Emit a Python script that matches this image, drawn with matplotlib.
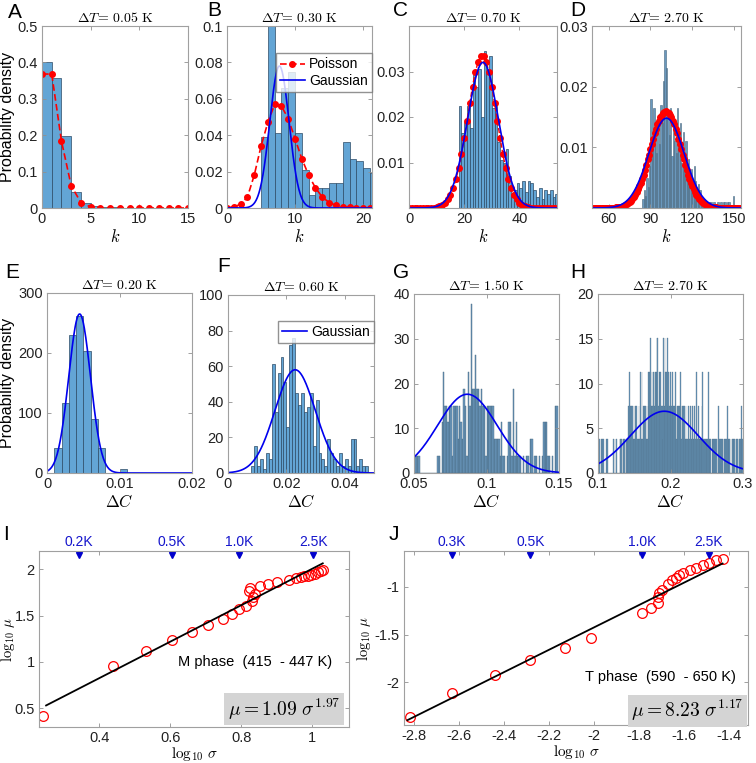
import numpy as np
import matplotlib
matplotlib.use('Agg')
import matplotlib.pyplot as plt
from matplotlib.ticker import FuncFormatter

plt.rcParams['font.family'] = ['Liberation Sans', 'DejaVu Sans']
plt.rcParams['mathtext.fontset'] = 'cm'
plt.rcParams['axes.unicode_minus'] = False

# ---------------------------------------------------------------- data
# A  (dT = 0.05 K)
A_edges = [0, 1, 2, 3, 4, 5, 6, 7, 8]
A_hist = [0.400, 0.357, 0.197, 0.044, 0.013, 0.006, 0.003, 0.002]
A_k = list(range(16))
A_pois = [0.368, 0.368, 0.184, 0.061, 0.015, 0.003, 0.0005, 0, 0, 0, 0, 0, 0, 0, 0, 0]

# B  (dT = 0.30 K)
B_start = 5
B_hist = [0.039, 0.105, 0.041, 0.066, 0.075, 0.041, 0.021, 0.007, 0.011, 0.011,
          0.014, 0.014, 0.036, 0.027, 0.026, 0.022, 0.019]
B_k = list(range(22))
B_pois = [0.0, 0.0007, 0.002, 0.006, 0.018, 0.034, 0.047, 0.057, 0.056, 0.049,
          0.038, 0.027, 0.018, 0.011, 0.006, 0.003, 0.0015, 0.0007, 0.0003, 0.0001, 0, 0]
B_gauss = (0.078, 7.7, 1.42)   # peak, centre, width

# C  (dT = 0.70 K)
C_start = 18
C_hist = [0.0225, 0.0165, 0.0190, 0.0225, 0.0175, 0.0295, 0.0265, 0.0305, 0.0200, 0.0345,
          0.0300, 0.0335, 0.0220, 0.0225, 0.0145, 0.0105, 0.0100, 0.0130, 0.0070, 0.0030,
          0.0040, 0.0055, 0.0045, 0.0060, 0.0035, 0.0060, 0.0055, 0.0040, 0.0025, 0.0045,
          0.0020, 0.0040, 0.0030, 0.0040, 0.0025, 0.0030]
C_k = list(range(54))
C_pois = ([0.0] * 9 +
          [0.0001, 0.0002, 0.0004, 0.0007, 0.0012, 0.0019, 0.0029, 0.0044, 0.0063, 0.0088,
           0.0118, 0.0154, 0.0192, 0.0230, 0.0267, 0.0298, 0.0321, 0.0333, 0.0333, 0.0321,
           0.0298, 0.0267, 0.0230, 0.0192, 0.0154, 0.0118, 0.0088, 0.0063, 0.0044, 0.0029,
           0.0019, 0.0012, 0.0007, 0.0004, 0.0002, 0.0001] +
          [0.0] * 9)
C_gauss = (0.032, 26.8, 5.6)

# D  (dT = 2.70 K)
D_start = 84
D_hist = [0.0015, 0.0030, 0.0020, 0.0050, 0.0035, 0.0070, 0.0180, 0.0095, 0.0165, 0.0120,
          0.0090, 0.0135, 0.0105, 0.0170, 0.0140, 0.0210, 0.0260, 0.0230, 0.0150, 0.0120,
          0.0165, 0.0085, 0.0145, 0.0110, 0.0090, 0.0165, 0.0120, 0.0140, 0.0075, 0.0125,
          0.0090, 0.0110, 0.0065, 0.0080, 0.0055, 0.0065, 0.0035, 0.0070, 0.0045, 0.0030,
          0.0040, 0.0030, 0.0020, 0.0010, 0.0010, 0.0, 0.0010, 0.0, 0.0010, 0.0010,
          0.0, 0.0010, 0.0, 0.0, 0.0010, 0.0, 0.0010, 0.0, 0.0010, 0.0010,
          0.0, 0.0010, 0.0010, 0.0, 0.0, 0.0020]
D_k = list(range(49, 155))
D_pois = ([0.0] * 16 +
          [0.0001, 0.0001, 0.0001, 0.0002, 0.0002, 0.0003, 0.0004, 0.0005, 0.0006, 0.0008,
           0.0010, 0.0012, 0.0015, 0.0018, 0.0022, 0.0026, 0.0031, 0.0036, 0.0042, 0.0048,
           0.0055, 0.0063, 0.0071, 0.0080, 0.0088, 0.0097, 0.0106, 0.0114, 0.0123, 0.0131,
           0.0138, 0.0144, 0.0150, 0.0154, 0.0157, 0.0159, 0.0160, 0.0159, 0.0157, 0.0154,
           0.0150, 0.0144, 0.0138, 0.0131, 0.0123, 0.0114, 0.0106, 0.0097, 0.0088, 0.0080,
           0.0071, 0.0063, 0.0055, 0.0048, 0.0042, 0.0036, 0.0031, 0.0026, 0.0022, 0.0018,
           0.0015, 0.0012, 0.0010, 0.0008, 0.0006, 0.0005, 0.0004, 0.0003, 0.0002, 0.0002,
           0.0001, 0.0001, 0.0001] +
          [0.0] * 17)
D_gauss = (0.0148, 101.5, 12.7)

# E  (dT = 0.20 K)
E_start, E_width = 0.001, 0.001
E_hist = [42, 117, 230, 261, 204, 90, 42, 0, 0, 6]
E_gauss = (265, 0.0045, 0.0015)

# F  (dT = 0.60 K)
F_start, F_width = 0.008, 0.001
F_hist = [4, 15, 4, 8, 2, 11, 8, 61, 34, 56, 65, 51, 26, 72, 76, 45, 38, 45, 34, 37,
          45, 15, 41, 11, 8, 4, 19, 11, 8, 4, 11, 4, 8, 4, 19, 19, 4, 8, 4, 4]
F_gauss = (58, 0.023, 0.0069)

# G  (dT = 1.50 K): counts per bin, one count = 3.77
G_start, G_width, G_unit = 0.050, 0.001, 3.77
G_counts = [0, 1, 1, 1, 0, 0, 0, 0, 0, 0, 0, 0, 0, 0, 0, 0, 1, 1, 0, 3,
            6, 4, 4, 3, 4, 4, 1, 4, 4, 4, 2, 4, 3, 2, 5, 4, 1, 6, 4, 10,
            5, 5, 7, 5, 5, 4, 5, 4, 4, 1, 4, 4, 4, 4, 4, 2, 2, 2, 2, 1,
            3, 1, 1, 0, 1, 3, 3, 1, 5, 1, 3, 1, 1, 1, 0, 1, 0, 1, 1, 0,
            2, 2, 0, 1, 1, 0, 1, 0, 1, 3, 3, 3, 1, 1, 0, 1, 0, 4, 4, 0]
G_gauss = (17.6, 0.0868, 0.0205)

# H  (dT = 2.70 K): counts per bin, one count = 3.77
H_start, H_width, H_unit = 0.100, 0.001, 3.77
H_counts = [1, 0, 1, 0, 1, 0, 1, 1, 0, 0, 0, 1, 0, 1, 0, 0, 0, 0, 0, 0,
            0, 1, 0, 1, 0, 1, 0, 0, 0, 0, 1, 1, 1, 0, 1, 1, 1, 0, 1, 1,
            1, 1, 2, 3, 2, 1, 2, 2, 1, 2, 1, 2, 1, 2, 1, 1, 2, 1, 3, 1,
            3, 1, 2, 1, 2, 2, 1, 2, 1, 3, 2, 3, 4, 2, 3, 2, 3, 2, 3, 3,
            3, 4, 4, 2, 3, 3, 3, 2, 2, 1, 4, 2, 4, 3, 3, 4, 2, 3, 2, 3,
            2, 2, 3, 2, 2, 2, 3, 2, 1, 2, 1, 2, 2, 3, 2, 1, 2, 2, 1, 2,
            1, 2, 1, 1, 2, 1, 1, 2, 1, 1, 2, 1, 1, 2, 1, 3, 1, 1, 2, 1,
            1, 1, 1, 2, 3, 1, 1, 0, 1, 1, 1, 1, 3, 1, 1, 1, 0, 1, 1, 1,
            1, 0, 1, 1, 0, 1, 2, 1, 1, 0, 1, 1, 1, 0, 1, 1, 0, 1, 2, 1,
            1, 1, 0, 1, 0, 1, 1, 1, 1, 0, 1, 1, 1, 0, 1, 1, 1, 2, 1, 1]
H_gauss = (6.9, 0.1915, 0.0467)

# I  (M phase)
I_logsig = [0.242, 0.440, 0.532, 0.605, 0.662, 0.707, 0.748, 0.773, 0.795, 0.813,
            0.823, 0.825, 0.830, 0.833, 0.838, 0.852, 0.876, 0.900, 0.935, 0.955,
            0.968, 0.977, 0.987, 0.997, 1.008, 1.018, 1.025, 1.030]
I_logmu = [0.415, 0.960, 1.120, 1.235, 1.325, 1.405, 1.467, 1.520, 1.575, 1.610,
           1.765, 1.795, 1.660, 1.700, 1.735, 1.820, 1.845, 1.865, 1.890, 1.905,
           1.915, 1.925, 1.935, 1.945, 1.955, 1.970, 1.985, 1.995]
I_fit = (1.09, 1.97)
I_fit_range = (0.25, 1.03)
I_marks = [0.343, 0.604, 0.794, 1.003]
I_mark_labels = ['0.2K', '0.5K', '1.0K', '2.5K']

# J  (T phase)
J_logsig = [-2.819, -2.634, -2.442, -2.284, -2.131, -2.013, -1.788, -1.747, -1.717, -1.716,
            -1.714, -1.699, -1.673, -1.654, -1.639, -1.624, -1.606, -1.574, -1.550, -1.517,
            -1.491, -1.458, -1.426]
J_logmu = [-2.366, -2.115, -1.923, -1.770, -1.638, -1.533, -1.279, -1.220, -1.167, -1.111,
           -1.070, -1.035, -0.972, -0.935, -0.905, -0.880, -0.860, -0.830, -0.800, -0.770,
           -0.750, -0.725, -0.712]
J_fit = (8.23, 1.17)
J_fit_range = (-2.83, -1.43)
J_marks = [-2.634, -2.284, -1.788, -1.492]
J_mark_labels = ['0.3K', '0.5K', '1.0K', '2.5K']

# ---------------------------------------------------------------- styling
W, H = 756, 763
HIST_FACE = '#63a5d5'
HIST_EDGE = '#2d4b66'
THIN_FACE = '#6a98bd'
THIN_EDGE = '#47677f'
RED = '#ff0000'
BLUE = '#0000ee'
fmt = FuncFormatter(lambda v, p: '%g' % v)


def gauss(x, peak, mu, sig):
    return peak * np.exp(-0.5 * ((x - mu) / sig) ** 2)


def px_axes(left, right, top, bottom):
    return fig.add_axes([left / W, 1 - bottom / H, (right - left) / W, (bottom - top) / H])


def style(ax, xlim, ylim, xticks, yticks):
    ax.set_xlim(xlim)
    ax.set_ylim(ylim)
    ax.set_xticks(xticks)
    ax.set_yticks(yticks)
    ax.xaxis.set_major_formatter(fmt)
    ax.yaxis.set_major_formatter(fmt)
    ax.tick_params(direction='in', top=True, right=True, length=3, width=0.6,
                   color='#909090', labelsize=10.5, labelcolor='#222222', pad=3)
    for s in ax.spines.values():
        s.set_color('#a0a0a0')
        s.set_linewidth(0.8)


def bars(ax, start, width, heights, face=HIST_FACE, edge=HIST_EDGE, lw=0.5):
    left = start + width * np.arange(len(heights))
    ax.bar(left, heights, width=width, align='edge', color=face,
           edgecolor=edge, linewidth=lw)


def title(ax, dT):
    ax.set_title(r'$\Delta T\!=\,%s\ \mathrm{K}$' % dT, fontsize=10, pad=3)


fig = plt.figure(figsize=(W / 100, H / 100), dpi=100)

# ---- row 1
axA = px_axes(42, 188, 26, 208)
bars(axA, A_edges[0], 1, A_hist)
axA.plot(A_k, A_pois, '--', color=RED, lw=1.2, marker='o', ms=4, dashes=(4, 2))
style(axA, (0, 15), (0, 0.5), [0, 5, 10, 15], np.arange(0, 0.51, 0.1))
title(axA, '0.05')
axA.set_xlabel(r'$k$', fontsize=12, labelpad=1)
axA.set_ylabel('Probability density', fontsize=11.5, labelpad=2)

axB = px_axes(227, 372, 26, 208)
bars(axB, B_start, 1, B_hist)
xB = np.linspace(0, 21.3, 300)
lp, = axB.plot(B_k, B_pois, '--', color=RED, lw=1.2, marker='o', ms=4, dashes=(4, 2))
lg, = axB.plot(xB, gauss(xB, *B_gauss), color=BLUE, lw=1.2)
style(axB, (0, 21.3), (0, 0.1), [0, 10, 20], np.arange(0, 0.101, 0.02))
title(axB, '0.30')
axB.set_xlabel(r'$k$', fontsize=12, labelpad=1)
axB.legend([lp, lg], ['Poisson', 'Gaussian'], loc='upper right', bbox_to_anchor=(1.0, 0.85),
           fontsize=10, frameon=True, fancybox=False, edgecolor='#777777', borderpad=0.3,
           handlelength=1.8, handletextpad=0.3, labelspacing=0.2, borderaxespad=0.0)

axC = px_axes(409, 557, 26, 208)
bars(axC, C_start, 1, C_hist)
xC = np.linspace(0, 53.6, 300)
axC.plot(C_k, C_pois, '--', color=RED, lw=1.0, marker='o', ms=4)
axC.plot(xC, gauss(xC, *C_gauss), color=BLUE, lw=1.2)
style(axC, (0, 53.6), (0, 0.04), [0, 20, 40], [0.01, 0.02, 0.03])
title(axC, '0.70')
axC.set_xlabel(r'$k$', fontsize=12, labelpad=1)

axD = px_axes(592, 741, 26, 208)
bars(axD, D_start, 1, D_hist, face=THIN_FACE, edge=THIN_EDGE, lw=0.4)
xD = np.linspace(48, 155, 300)
axD.plot(D_k, D_pois, '--', color=RED, lw=1.0, marker='o', ms=4)
axD.plot(xD, gauss(xD, *D_gauss), color=BLUE, lw=1.2)
style(axD, (48, 155), (0, 0.03), [60, 90, 120, 150], [0.01, 0.02, 0.03])
title(axD, '2.70')
axD.set_xlabel(r'$k$', fontsize=12, labelpad=1)

# ---- row 2
axE = px_axes(47, 192, 293, 473)
bars(axE, E_start, E_width, E_hist)
xE = np.linspace(0, 0.02, 300)
axE.plot(xE, gauss(xE, *E_gauss), color=BLUE, lw=1.2)
style(axE, (0, 0.02), (0, 300), [0, 0.01, 0.02], [0, 100, 200, 300])
title(axE, '0.20')
axE.set_xlabel(r'$\Delta C$', fontsize=12, labelpad=1)
axE.set_ylabel('Probability density', fontsize=11.5, labelpad=2)

axF = px_axes(228, 374, 295, 473)
bars(axF, F_start, F_width, F_hist)
xF = np.linspace(0, 0.05, 300)
lg2, = axF.plot(xF, gauss(xF, *F_gauss), color=BLUE, lw=1.2)
style(axF, (0, 0.05), (0, 100), [0, 0.02, 0.04], np.arange(0, 101, 20))
title(axF, '0.60')
axF.set_xlabel(r'$\Delta C$', fontsize=12, labelpad=1)
axF.legend([lg2], ['Gaussian'], loc='upper right', bbox_to_anchor=(1.0, 0.855),
           fontsize=10, frameon=True, fancybox=False, edgecolor='#777777', borderpad=0.3,
           handlelength=1.8, handletextpad=0.3, borderaxespad=0.0)

axG = px_axes(414, 559, 294, 473)
bars(axG, G_start, G_width, np.array(G_counts) * G_unit, face=THIN_FACE, edge=THIN_EDGE, lw=0.3)
xG = np.linspace(0.05, 0.15, 300)
axG.plot(xG, gauss(xG, *G_gauss), color=BLUE, lw=1.2)
style(axG, (0.05, 0.15), (0, 40), [0.05, 0.1, 0.15], [0, 10, 20, 30, 40])
title(axG, '1.50')
axG.set_xlabel(r'$\Delta C$', fontsize=12, labelpad=1)

axH = px_axes(598, 743, 294, 473)
bars(axH, H_start, H_width, np.array(H_counts) * H_unit, face=THIN_FACE, edge=THIN_EDGE, lw=0.2)
xH = np.linspace(0.1, 0.3, 300)
axH.plot(xH, gauss(xH, *H_gauss), color=BLUE, lw=1.2)
style(axH, (0.1, 0.3), (0, 20), [0.1, 0.2, 0.3], [0, 5, 10, 15, 20])
title(axH, '2.70')
axH.set_xlabel(r'$\Delta C$', fontsize=12, labelpad=1)


# ---- row 3
def scaling(ax, xs, ys, fit, fit_range, marks, mark_labels, phase, phase_xy, box_xy, ylab_x):
    ax.plot(xs, ys, 'o', mfc='none', mec=RED, ms=7, mew=0.9)
    xf = np.array(fit_range)
    ax.plot(xf, np.log10(fit[0]) + fit[1] * xf, color='black', lw=1.3)
    tr = ax.get_xaxis_transform()
    ax.plot(marks, [0.975] * len(marks), 'v', color='#0000cc', ms=4, transform=tr, clip_on=False)
    for m, lab in zip(marks, mark_labels):
        ax.text(m, 1.012, lab, transform=tr, ha='center', va='bottom',
                color='#1515cc', fontsize=10)
    ax.text(phase_xy[0], phase_xy[1], phase, transform=ax.transAxes,
            ha='right', va='center', fontsize=10.5)
    ax.text(box_xy[0], box_xy[1], r'$\mu = %.2f\ \sigma^{%.2f}$' % fit, transform=ax.transAxes,
            ha='right', va='center', fontsize=14,
            bbox=dict(facecolor='#d4d4d4', edgecolor='none', pad=2.5))
    ax.set_xlabel(r'$\log_{10}\,\sigma$', fontsize=11, labelpad=0)
    ax.set_ylabel(r'$\log_{10}\,\mu$', fontsize=10.5)
    ax.yaxis.set_label_coords(ylab_x, 0.5)


axI = px_axes(39, 349, 551, 727)
style(axI, (0.23, 1.104), (0.297, 2.2), [0.4, 0.6, 0.8, 1.0], [0.5, 1, 1.5, 2])
scaling(axI, I_logsig, I_logmu, I_fit, I_fit_range, I_marks, I_mark_labels,
        'M phase  (415  - 447 K)', (0.947, 0.371), (0.972, 0.102), -0.072)

axJ = px_axes(404, 748, 551, 725)
style(axJ, (-2.845, -1.317), (-2.446, -0.627), np.arange(-2.8, -1.35, 0.2), [-2, -1.5, -1])
scaling(axJ, J_logsig, J_logmu, J_fit, J_fit_range, J_marks, J_mark_labels,
        'T phase  (590  - 650 K)', (0.965, 0.274), (0.988, 0.082), -0.09)

# ---- panel letters
for lab, (x, y) in zip('ABCDEFGHIJ', [(8, 13), (207, 11), (393, 11), (570, 11),
                                      (5, 272), (217, 266), (393, 272), (570, 272),
                                      (3, 535), (389, 535)]):
    fig.text(x / W, 1 - y / H, lab, fontsize=15, va='center', ha='left')

fig.savefig('out.png', dpi=100)
